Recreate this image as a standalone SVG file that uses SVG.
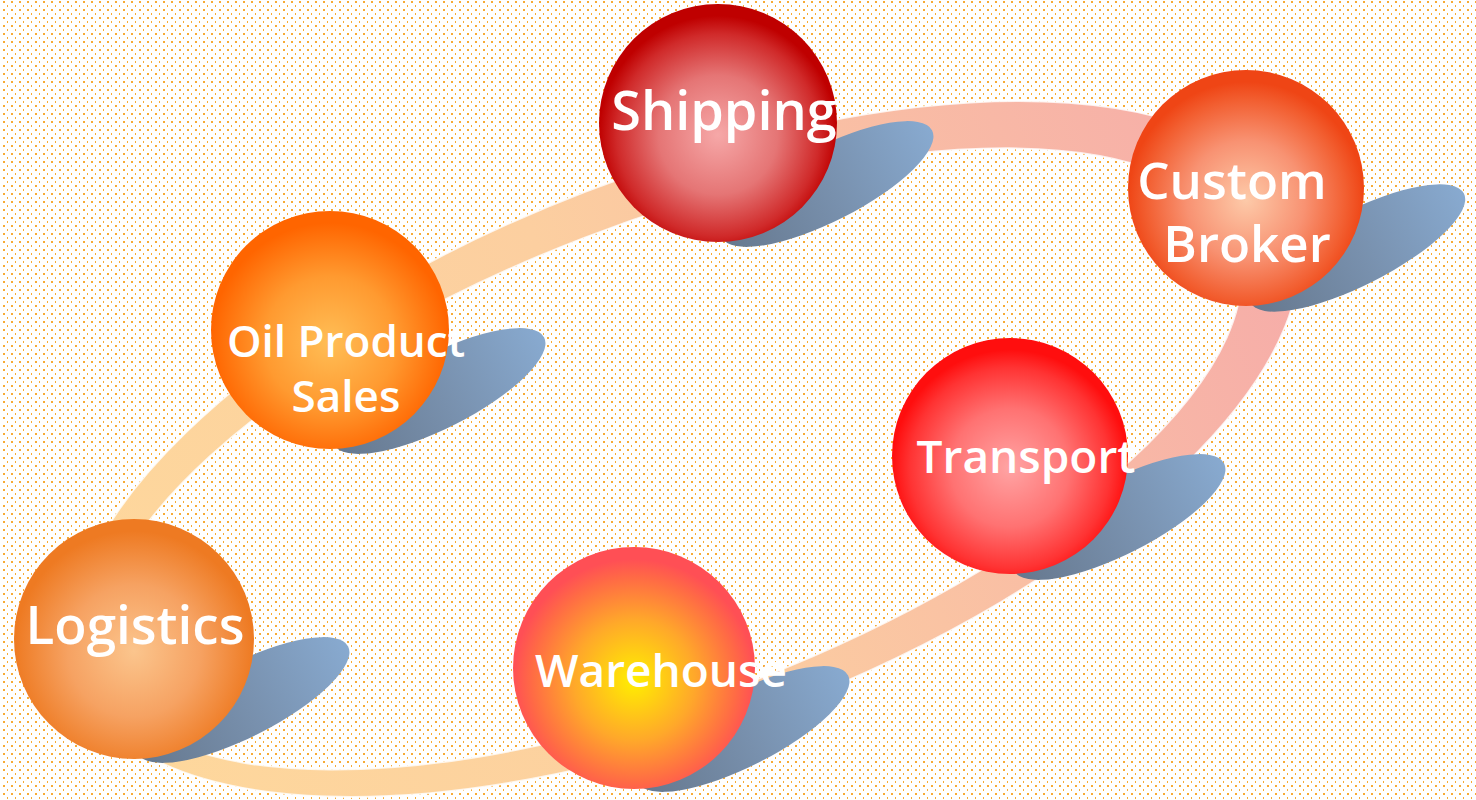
<svg xmlns="http://www.w3.org/2000/svg" width="1476" height="800" viewBox="0 0 1476 800">
  <defs>
    <pattern id="dots" width="8" height="8" patternUnits="userSpaceOnUse">
      <rect x="3" y="1" width="2" height="2" fill="#f7ab36"/>
      <rect x="7" y="5" width="2" height="2" fill="#f7ab36"/>
    </pattern>
    <linearGradient id="ringGrad" x1="0" y1="0" x2="1" y2="0">
      <stop offset="0" stop-color="#fed89c"/>
      <stop offset="0.45" stop-color="#fccfa0"/>
      <stop offset="1" stop-color="#f6aca9"/>
    </linearGradient>
    <linearGradient id="shadowGrad" x1="0" y1="0" x2="1" y2="0">
      <stop offset="0" stop-color="#66788e"/>
      <stop offset="0.5" stop-color="#7890ad"/>
      <stop offset="1" stop-color="#88aad0"/>
    </linearGradient>
    <radialGradient id="gShip" cx="0.5" cy="0.55" r="0.5">
      <stop offset="0" stop-color="#f6a8a8"/>
      <stop offset="0.5" stop-color="#e57575"/>
      <stop offset="0.85" stop-color="#d02a2a"/>
      <stop offset="1" stop-color="#bf0000"/>
    </radialGradient>
    <radialGradient id="gCust" cx="0.5" cy="0.55" r="0.5">
      <stop offset="0" stop-color="#fdcaa9"/>
      <stop offset="0.5" stop-color="#f89272"/>
      <stop offset="0.85" stop-color="#f25e30"/>
      <stop offset="1" stop-color="#ef4515"/>
    </radialGradient>
    <radialGradient id="gTrans" cx="0.5" cy="0.55" r="0.5">
      <stop offset="0" stop-color="#ffa4a4"/>
      <stop offset="0.5" stop-color="#ff7272"/>
      <stop offset="0.85" stop-color="#ff3333"/>
      <stop offset="1" stop-color="#ff0e0e"/>
    </radialGradient>
    <radialGradient id="gWare" cx="0.5" cy="0.55" r="0.5">
      <stop offset="0" stop-color="#ffef00"/>
      <stop offset="0.5" stop-color="#ffa82a"/>
      <stop offset="0.85" stop-color="#ff6a45"/>
      <stop offset="1" stop-color="#ff4f55"/>
    </radialGradient>
    <radialGradient id="gLog" cx="0.5" cy="0.55" r="0.5">
      <stop offset="0" stop-color="#fbc58d"/>
      <stop offset="0.55" stop-color="#f6a262"/>
      <stop offset="1" stop-color="#ee7a22"/>
    </radialGradient>
    <radialGradient id="gOil" cx="0.5" cy="0.55" r="0.5">
      <stop offset="0" stop-color="#ffbe56"/>
      <stop offset="0.55" stop-color="#ff9a30"/>
      <stop offset="1" stop-color="#ff6500"/>
    </radialGradient>
    <style>
      .shadow { fill: url(#shadowGrad); }
      .label { font-family: "Open Sans", "Noto Sans", "Liberation Sans", sans-serif; font-weight: 600; fill: #ffffff; text-anchor: middle; }
    </style>
  </defs>

  <rect width="1476" height="800" fill="#ffffff"/>
  <rect width="1476" height="800" fill="url(#dots)"/>

  <g id="connectors">
    <g transform="translate(685,449) rotate(-21.1)">
      <path fill="url(#ringGrad)" fill-rule="evenodd" stroke="#ffffff" stroke-width="2" stroke-opacity="0.8"
        d="M 650 0 A 650 276 0 1 0 -650 0 A 650 276 0 1 0 650 0 Z M 588 3.7 A 606 237 0 1 0 -624 3.7 A 606 237 0 1 0 588 3.7 Z"/>
    </g>
  </g>

  <g id="node-shipping">
    <ellipse class="shadow" cx="0" cy="0" rx="118" ry="37" transform="translate(827,184) rotate(-27)"/>
    <circle cx="718" cy="123" r="119" fill="url(#gShip)"/>
    <text class="label" x="724" y="130" font-size="54">Shipping</text>
  </g>

  <g id="node-custom-broker">
    <ellipse class="shadow" cx="0" cy="0" rx="120" ry="37" transform="translate(1357,248) rotate(-27)"/>
    <circle cx="1246" cy="188" r="118" fill="url(#gCust)"/>
    <text class="label" x="1232" y="199" font-size="51">Custom</text>
    <text class="label" x="1247" y="262" font-size="51">Broker</text>
  </g>

  <g id="node-oil-product-sales">
    <ellipse class="shadow" cx="0" cy="0" rx="118" ry="37" transform="translate(439,391) rotate(-27)"/>
    <circle cx="330" cy="330" r="119" fill="url(#gOil)"/>
    <text class="label" x="346" y="357" font-size="44">Oil Product</text>
    <text class="label" x="346" y="412" font-size="44">Sales</text>
  </g>

  <g id="node-transport">
    <ellipse class="shadow" cx="0" cy="0" rx="118" ry="37" transform="translate(1119,517) rotate(-27)"/>
    <circle cx="1010" cy="456" r="118" fill="url(#gTrans)"/>
    <text class="label" x="1026" y="473" font-size="46">Transport</text>
  </g>

  <g id="node-warehouse">
    <ellipse class="shadow" cx="0" cy="0" rx="118" ry="37" transform="translate(743,729) rotate(-27)"/>
    <circle cx="634" cy="668" r="121" fill="url(#gWare)"/>
    <text class="label" x="661" y="687" font-size="46">Warehouse</text>
  </g>

  <g id="node-logistics">
    <ellipse class="shadow" cx="0" cy="0" rx="118" ry="37" transform="translate(243,700) rotate(-27)"/>
    <circle cx="134" cy="639" r="120" fill="url(#gLog)"/>
    <text class="label" x="135" y="644" font-size="53">Logistics</text>
  </g>
</svg>
